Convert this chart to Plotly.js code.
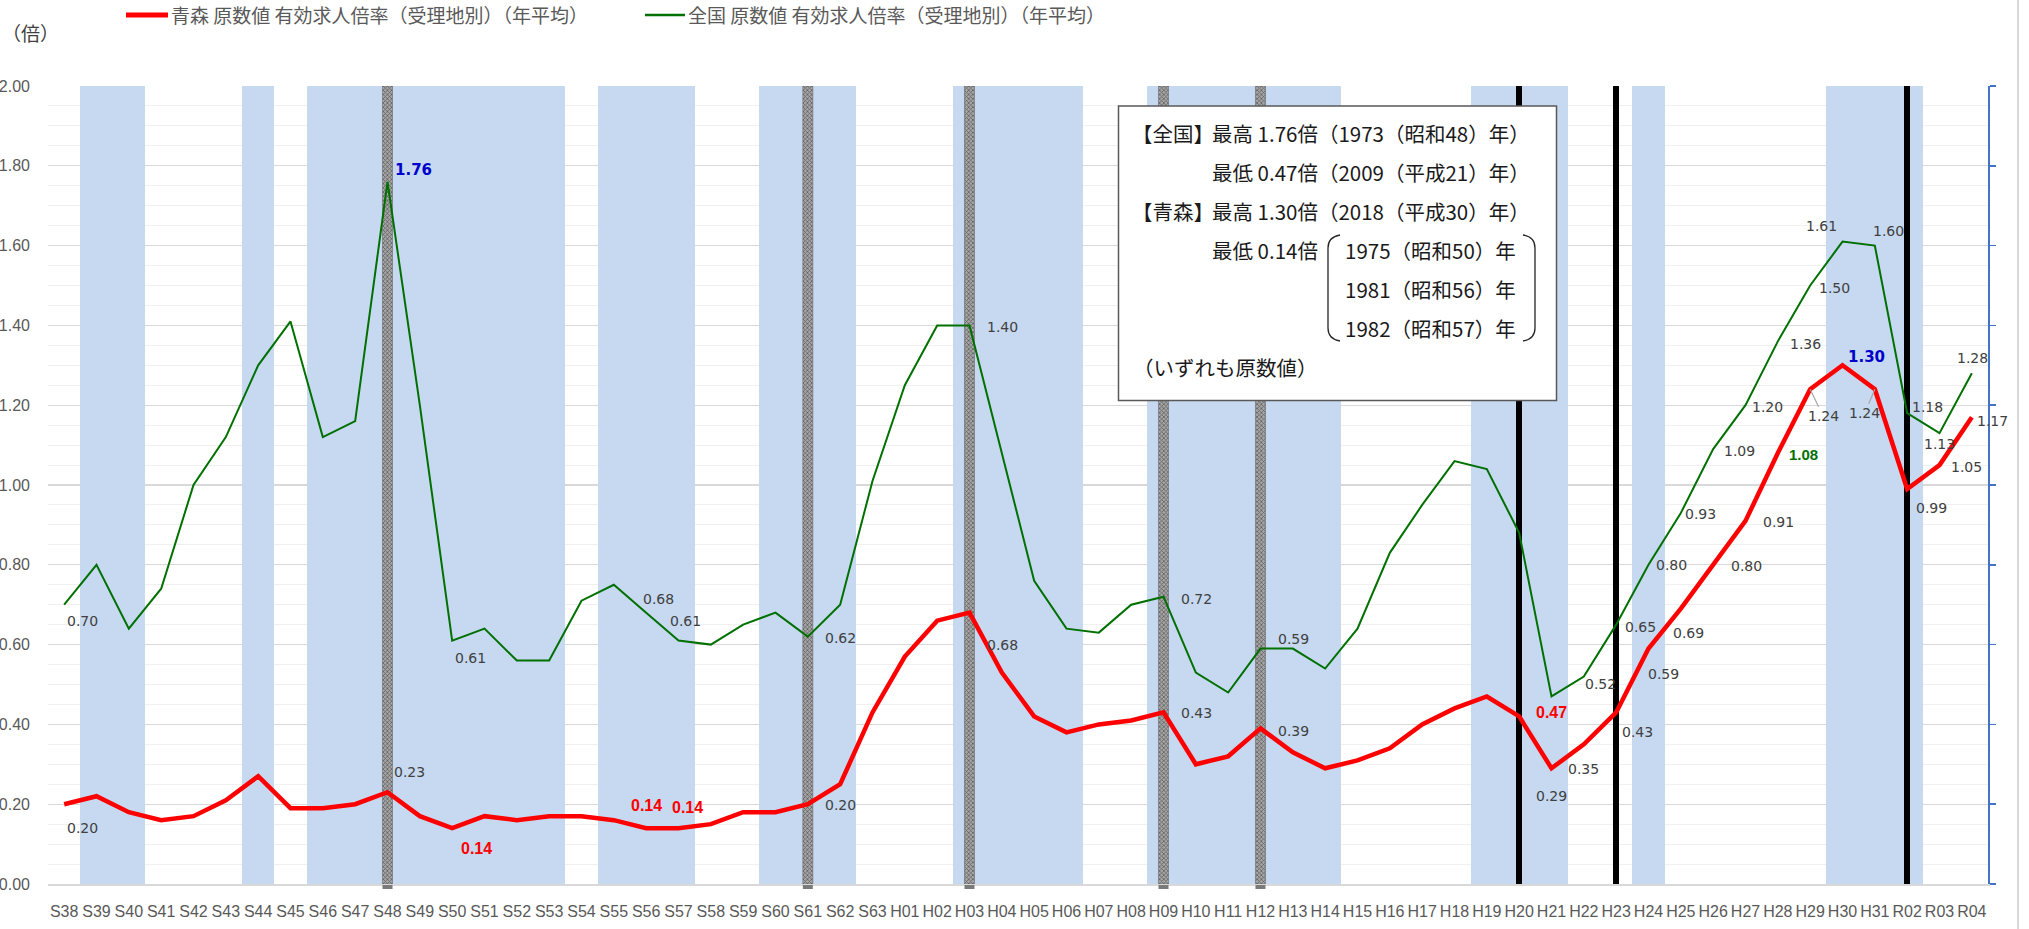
<!DOCTYPE html>
<html><head><meta charset="utf-8">
<script src="https://cdn.plot.ly/plotly-3.0.1.min.js"></script>
<style>html,body{margin:0;padding:0;background:#fff;overflow:hidden;} #chart{width:2029px;height:929px;}</style>
</head><body><div id="chart"></div>
<script>
// ---------------- data ----------------
const categories = ['S38','S39','S40','S41','S42','S43','S44','S45','S46','S47','S48','S49','S50','S51','S52','S53','S54','S55','S56','S57','S58','S59','S60','S61','S62','S63',
  'H01','H02','H03','H04','H05','H06','H07','H08','H09','H10','H11','H12','H13','H14','H15','H16','H17','H18','H19','H20','H21','H22','H23','H24','H25','H26','H27','H28','H29','H30','H31',
  'R02','R03','R04'];
const aomori = [0.20,0.22,0.18,0.16,0.17,0.21,0.27,0.19,0.19,0.20,
  0.23,0.17,0.14,0.17,0.16,0.17,0.17,0.16,0.14,0.14,
  0.15,0.18,0.18,0.20,0.25,0.43,
  0.57,0.66,0.68,0.53,0.42,0.38,0.40,0.41,0.43,0.30,
  0.32,0.39,0.33,0.29,0.31,0.34,0.40,0.44,0.47,0.42,
  0.29,0.35,0.43,0.59,0.69,0.80,0.91,1.08,1.24,1.30,
  1.24,0.99,1.05,1.17];
const zenkoku = [0.70,0.80,0.64,0.74,1.00,1.12,1.30,1.41,1.12,1.16,
  1.76,1.20,0.61,0.64,0.56,0.56,0.71,0.75,0.68,0.61,
  0.60,0.65,0.68,0.62,0.70,1.01,
  1.25,1.40,1.40,1.08,0.76,0.64,0.63,0.70,0.72,0.53,
  0.48,0.59,0.59,0.54,0.64,0.83,0.95,1.06,1.04,0.88,
  0.47,0.52,0.65,0.80,0.93,1.09,1.20,1.36,1.50,1.61,
  1.60,1.18,1.13,1.28];
const seriesNames = ['青森 原数値 有効求人倍率（受理地別）（年平均）','全国 原数値 有効求人倍率（受理地別）（年平均）'];
// shaded periods (categories covered by the light-blue background columns)
const shadedYears = ['S39','S40','S44','S46','S47','S48','S49','S50','S51','S52','S53','S55','S56','S57',
  'S60','S61','S62','H03','H04','H05','H06','H09','H10','H11','H12','H13','H14','H19','H20','H21','H24','H30','H31','R02'];
const peakYears = ['S48','S61','H03','H09','H12'];
const eventYears = ['H20','H23','R02'];
const columnTop = 2.0;
const yTickVals = [0,0.2,0.4,0.6,0.8,1.0,1.2,1.4,1.6,1.8,2.0];
// data labels: [series, category, dx(px), dy(px, down), style]
const labelSpec = [
  ['z','S38',18,16,'n'],['z','S48',26,-12,'bb'],['z','S50',18,17,'n'],['z','S56',12,-14,'n'],['z','S57',7,-20,'n'],
  ['z','S61',33,1,'n'],['z','H03',33,2,'n'],['z','H09',33,2,'n'],['z','H12',33,-10,'n'],['z','H21',0,16,'rb'],
  ['z','H22',17,7,'n'],['z','H23',24,2,'n'],['z','H24',23,0,'n'],['z','H25',20,1,'n'],['z','H26',26,2,'n'],
  ['z','H27',22,2,'n'],['z','H28',28,3,'n'],['z','H29',24,2,'n'],['z','H30',-21,-16,'n'],['z','H31',14,-15,'n'],
  ['z','R02',20,-6,'n'],['z','R03',0,11,'n'],['z','R04',1,-15,'n'],
  ['a','S38',18,24,'n'],['a','S48',22,-20,'n'],['a','S50',24,20,'rb'],['a','S56',0,-23,'rb'],['a','S57',9,-21,'rb'],
  ['a','S61',33,1,'n'],['a','H03',33,32,'n'],['a','H09',33,1,'n'],['a','H12',33,3,'n'],['a','H21',0,28,'n'],
  ['a','H22',0,25,'n'],['a','H23',21,20,'n'],['a','H24',15,25,'n'],['a','H25',8,24,'n'],['a','H26',33,1,'n'],
  ['a','H27',33,1,'n'],['a','H28',26,1,'gb'],['a','H29',13,27,'lead'],['a','H30',24,-8,'bb'],['a','H31',-10,24,'lead'],
  ['a','R02',24,19,'n'],['a','R03',27,2,'n'],['a','R04',21,4,'n']
];

// ---------------- geometry helpers ----------------
const L=48, T=86, W=1940, H=798, R=2029-L-W, B=929-T-H;
const px = x => (x-L)/W;
const py = y => (T+H-y)/H;
const idx = c => categories.indexOf(c);

const RED='#FF0000', GREEN='#007000', BLUE='#0000CC', TXT='#404040', AX='#595959';

const traces = [
  // background columns (base subplot, under the lines)
  {x:shadedYears, y:shadedYears.map(()=>columnTop), type:'bar', yaxis:'y', width:1,
   marker:{color:'#C6D9F0', line:{width:0}}, hoverinfo:'skip', showlegend:false},
  {x:peakYears, y:peakYears.map(()=>columnTop), type:'bar', yaxis:'y', width:0.31,
   marker:{color:'#8A8A8A', line:{width:0.6, color:'#6A6A6A'},
     pattern:{shape:'x', size:3, solidity:0.45, fgcolor:'#5E5E5E', bgcolor:'#A6A6A6'}},
   hoverinfo:'skip', showlegend:false},
  {x:eventYears, y:eventYears.map(()=>columnTop), type:'bar', yaxis:'y', width:0.17,
   marker:{color:'#000000', line:{width:0}}, hoverinfo:'skip', showlegend:false},
  // series lines (overlay subplot, drawn on top)
  {x:categories, y:aomori, type:'scatter', mode:'lines', name:seriesNames[0], yaxis:'y2',
   line:{color:RED, width:4.5}, hoverinfo:'skip', showlegend:false},
  {x:categories, y:zenkoku, type:'scatter', mode:'lines', name:seriesNames[1], yaxis:'y2',
   line:{color:GREEN, width:2}, hoverinfo:'skip', showlegend:false}
];

const shapes = [];
// short stubs of the peak columns below the axis
peakYears.forEach(c => {
  shapes.push({type:'rect', xref:'x', yref:'paper', x0:idx(c)-0.155, x1:idx(c)+0.155, y0:py(889), y1:py(885),
    fillcolor:'#7A7A7A', line:{width:0}, layer:'above'});
});
// info box
shapes.push({type:'rect', xref:'paper', yref:'paper', x0:px(1118.5), x1:px(1556.5), y0:py(400.5), y1:py(106),
  fillcolor:'#FFFFFF', line:{color:'#595959', width:1.5}, layer:'above'});
// braces
shapes.push({type:'path', xref:'paper', yref:'paper', layer:'above', line:{color:'#262626', width:1.3},
  path:`M ${px(1340)},${py(235)} Q ${px(1328)},${py(237)} ${px(1328)},${py(248)} L ${px(1328)},${py(328)} Q ${px(1328)},${py(339)} ${px(1340)},${py(341)}`});
shapes.push({type:'path', xref:'paper', yref:'paper', layer:'above', line:{color:'#262626', width:1.3},
  path:`M ${px(1523)},${py(235)} Q ${px(1535)},${py(237)} ${px(1535)},${py(248)} L ${px(1535)},${py(328)} Q ${px(1535)},${py(339)} ${px(1523)},${py(341)}`});
// outer border line at right
shapes.push({type:'line', xref:'paper', yref:'paper', x0:px(2018), x1:px(2018), y0:py(-5), y1:py(935),
  line:{color:'#D9D9D9', width:2}, layer:'above'});
// custom legend samples
const legendItems = [
  {name:seriesNames[0], color:RED, width:5, x0:126, x1:168, tx:170},
  {name:seriesNames[1], color:GREEN, width:2.5, x0:645, x1:685, tx:687}
];
legendItems.forEach(it => {
  shapes.push({type:'line', xref:'paper', yref:'paper', x0:px(it.x0), x1:px(it.x1), y0:py(15), y1:py(15),
    line:{color:it.color, width:it.width}, layer:'above'});
});

const annotations = [];
legendItems.forEach(it => annotations.push({xref:'paper', yref:'paper', x:px(it.tx), y:py(15), text:it.name,
  showarrow:false, xanchor:'left', yanchor:'middle', borderpad:0,
  font:{family:'Noto Sans CJK JP', size:19, color:AX}}));
const styleMap = {
  n:{family:'DejaVu Sans', size:14, color:TXT},
  lead:{family:'DejaVu Sans', size:14, color:TXT},
  bb:{family:'DejaVu Sans', size:15, color:BLUE, weight:'bold'},
  rb:{family:'Liberation Sans', size:16, color:RED, weight:'bold'},
  gb:{family:'Liberation Sans', size:15, color:GREEN, weight:'bold'}
};
labelSpec.forEach(s => {
  const arr = s[0]==='a' ? aomori : zenkoku;
  const v = arr[idx(s[1])];
  const f = styleMap[s[4]];
  const txt = f.weight ? '<b>'+v.toFixed(2)+'</b>' : v.toFixed(2);
  const a = {xref:'x', yref:'y', x:idx(s[1]), y:v, text:txt,
    font:{family:f.family, size:f.size, color:f.color}, xanchor:'center', yanchor:'middle'};
  if (s[4]==='lead') {
    Object.assign(a, {showarrow:true, ax:s[2], ay:s[3], arrowhead:0, arrowwidth:1.2, arrowcolor:'#A6A6A6', standoff:0});
  } else {
    Object.assign(a, {showarrow:false, xshift:s[2], yshift:-s[3]});
  }
  annotations.push(a);
});
const boxFont = {family:'Noto Sans CJK JP', size:20.5, color:'#1A1A1A'};
const boxLines = [
  ['【全国】',1131,133.3],['最高 1.76倍（1973（昭和48）年）',1211,133.3],
  ['最低 0.47倍（2009（平成21）年）',1211,171.7],
  ['【青森】',1131,210.7],['最高 1.30倍（2018（平成30）年）',1211,210.7],
  ['最低 0.14倍',1211,250],['1975（昭和50）年',1344,250],
  ['1981（昭和56）年',1344,289],['1982（昭和57）年',1344,328.3],
  ['（いずれも原数値）',1132,366.7]
];
boxLines.forEach(b => annotations.push({xref:'paper', yref:'paper', x:px(b[1]), y:py(b[2]), text:b[0],
  showarrow:false, xanchor:'left', yanchor:'middle', font:boxFont, borderpad:0}));
annotations.push({xref:'paper', yref:'paper', x:px(1), y:py(33), text:'（倍）', showarrow:false,
  xanchor:'left', yanchor:'middle', font:{family:'Noto Sans CJK JP', size:19, color:'#404040'}, borderpad:0});

const tickFont = {family:'Liberation Sans', size:16, color:AX};
const layout = {
  width:2029, height:929, autosize:false,
  margin:{l:L, r:R, t:T, b:B, pad:0, autoexpand:false},
  paper_bgcolor:'#FFFFFF', plot_bgcolor:'#FFFFFF',
  hovermode:false,
  showlegend:false,
  barmode:'overlay', bargap:0,
  xaxis:{type:'category', categoryorder:'array', categoryarray:categories, range:[-0.5, categories.length-0.5],
    showgrid:false, zeroline:false, ticks:'', tickfont:tickFont, showline:true, linecolor:'#D9D9D9', linewidth:2,
    ticklabelstandoff:12, fixedrange:true, tickangle:0, automargin:false},
  yaxis:{range:[0,2], tickmode:'array', tickvals:yTickVals, tickformat:'.2f', showgrid:true, gridcolor:'#D9D9D9', gridwidth:1.3,
    zeroline:false, showline:false, ticks:'', tickfont:tickFont, ticklabelstandoff:17, fixedrange:true, automargin:false,
    minor:{dtick:0.05, tick0:0, showgrid:true, gridcolor:'#F0F0F0', gridwidth:1}},
  yaxis2:{range:[0,2], overlaying:'y', side:'right', anchor:'x', tickmode:'array', tickvals:yTickVals,
    showgrid:false, zeroline:false, showline:true, linecolor:'#4472C4', linewidth:1.5, automargin:false,
    ticks:'outside', ticklen:6, tickwidth:1.5, tickcolor:'#4472C4', showticklabels:false, fixedrange:true},
  shapes:shapes,
  annotations:annotations
};
Plotly.newPlot('chart', traces, layout, {displayModeBar:false, staticPlot:true});
</script>
</body></html>
